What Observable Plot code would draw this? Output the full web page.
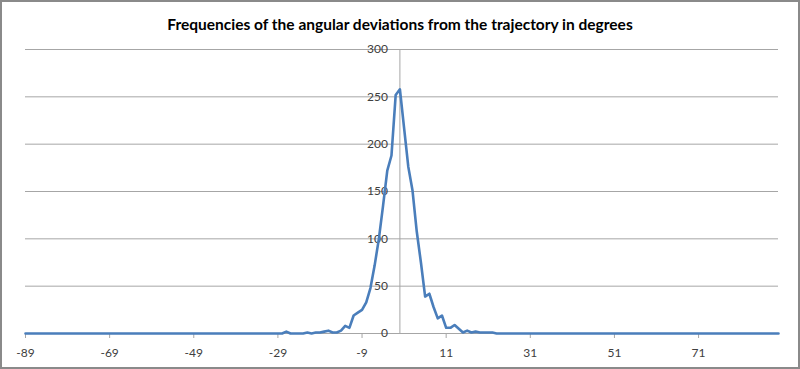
<!DOCTYPE html>
<html><head><meta charset="utf-8">
<script src="https://cdn.jsdelivr.net/npm/d3@7"></script>
<script src="https://cdn.jsdelivr.net/npm/@observablehq/plot@0.6"></script>
<style>
body{margin:0;background:#fff;}
#wrap{position:relative;width:800px;height:369px;overflow:hidden;background:#fff;}
#title{height:40px;box-sizing:border-box;padding-top:15px;text-align:center;font:bold 15.5px Lato, sans-serif;line-height:18px;color:#000;}
#border{position:absolute;left:0;top:0;width:800px;height:369px;box-sizing:border-box;border:2px solid #8a8a8a;pointer-events:none;}
svg{display:block;}
</style></head>
<body>
<div id="wrap">
  <div id="title">Frequencies of the angular deviations from the trajectory in degrees</div>
  <div id="chart"></div>
  <div id="border"></div>
</div>
<script>
const angles = [
  -89,-88,-87,-86,-85,-84,-83,-82,-81,-80,-79,-78,-77,-76,-75,-74,-73,-72,-71,-70,
  -69,-68,-67,-66,-65,-64,-63,-62,-61,-60,-59,-58,-57,-56,-55,-54,-53,-52,-51,-50,
  -49,-48,-47,-46,-45,-44,-43,-42,-41,-40,-39,-38,-37,-36,-35,-34,-33,-32,-31,-30,
  -29,-28,-27,-26,-25,-24,-23,-22,-21,-20,-19,-18,-17,-16,-15,-14,-13,-12,-11,-10,
  -9,-8,-7,-6,-5,-4,-3,-2,-1,0,1,2,3,4,5,6,7,8,9,10,
  11,12,13,14,15,16,17,18,19,20,21,22,23,24,25,26,27,28,29,30,
  31,32,33,34,35,36,37,38,39,40,41,42,43,44,45,46,47,48,49,50,
  51,52,53,54,55,56,57,58,59,60,61,62,63,64,65,66,67,68,69,70,
  71,72,73,74,75,76,77,78,79,80,81,82,83,84,85,86,87,88,89,90
];
const counts = [
  0,0,0,0,0,0,0,0,0,0,0,0,0,0,0,0,0,0,0,0,
  0,0,0,0,0,0,0,0,0,0,0,0,0,0,0,0,0,0,0,0,
  0,0,0,0,0,0,0,0,0,0,0,0,0,0,0,0,0,0,0,0,
  0,0,2,0,0,0,0,1,0,1,1,2,3,1,1,3,8,6,19,22,
  25,33,48,72,100,135,172,188,252,258,217,176,151,108,75,39,42,28,16,19,
  6,6,9,5,1,3,1,2,1,1,1,1,0,0,0,0,0,0,0,0,
  0,0,0,0,0,0,0,0,0,0,0,0,0,0,0,0,0,0,0,0,
  0,0,0,0,0,0,0,0,0,0,0,0,0,0,0,0,0,0,0,0,
  0,0,0,0,0,0,0,0,0,0,0,0,0,0,0,0,0,0,0,0
];
const xTicks = [-89, -69, -49, -29, -9, 11, 31, 51, 71];
const yTicks = [0, 50, 100, 150, 200, 250, 300];

const data = angles.map((a, i) => ({angle: a, count: counts[i]}));
const grid = "#a6a6a6";

const chart = Plot.plot({
  width: 800,
  height: 329,
  marginTop: 9,
  marginBottom: 36,
  marginLeft: 25,
  marginRight: 22,
  style: {fontFamily: "Lato, sans-serif", fontSize: "12px", color: "#404040", background: "transparent"},
  x: {domain: [-89, 90], label: null},
  y: {domain: [0, 300], label: null, axis: null},
  marks: [
    Plot.ruleY(yTicks, {stroke: grid, strokeWidth: 1}),
    Plot.ruleX([0], {stroke: grid, strokeWidth: 1}),
    Plot.axisX({ticks: xTicks, tickFormat: d => String(d), tickSize: 5, tickPadding: 10, stroke: grid, fill: "#404040", label: null, fontSize: 12}),
    Plot.text(yTicks, {x: 0, y: d => d, text: d => String(d), textAnchor: "end", dx: -12, fill: "#404040", fontSize: 12}),
    Plot.line(data, {x: "angle", y: "count", stroke: "#4a7ebb", strokeWidth: 2.6, strokeLinejoin: "round"})
  ]
});
document.getElementById("chart").appendChild(chart);
</script>
</body></html>
